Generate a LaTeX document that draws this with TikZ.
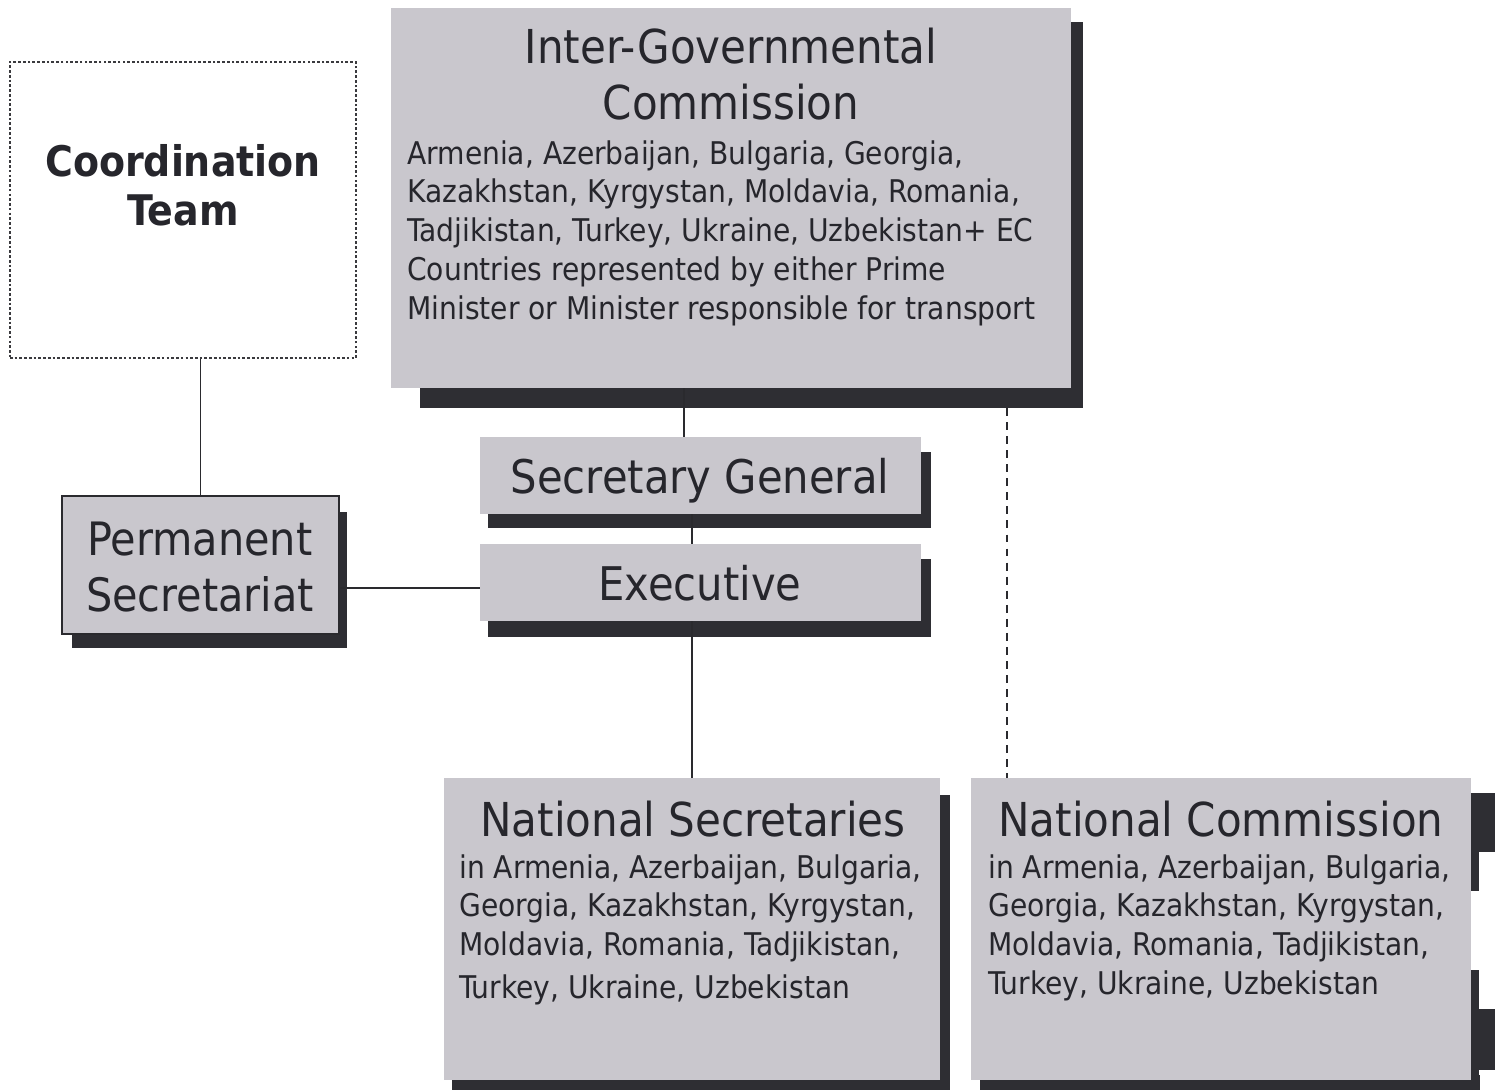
\documentclass[tikz,border=0pt]{standalone}
\usepackage{fontspec}
\setmainfont{DejaVu Sans Condensed}
\usetikzlibrary{fit}

\definecolor{panel}{HTML}{C9C7CD}
\definecolor{shadowc}{HTML}{2E2E33}
\definecolor{ink}{HTML}{26262C}
\definecolor{linec}{HTML}{2A2A2E}
\definecolor{dotc}{HTML}{3A3A3E}

% multi-line text blocks whose baseline is the first line
\newcommand{\LeftLines}[1]{\begin{tabular}[t]{@{}l@{}}#1\end{tabular}}
\newcommand{\CentreLines}[1]{\begin{tabular}[t]{@{}c@{}}#1\end{tabular}}

\begin{document}
\begin{tikzpicture}[x=0.02cm,y=-0.02cm,
  panelbox/.style={fill=panel, draw=none, inner sep=0},
  dropshade/.style={fill=shadowc, draw=none},
  link/.style={draw=linec, line width=0.9pt},
  txt/.style={inner sep=0, text=ink},
  titlefont/.style={font=\fontsize{26.6pt}{32.3pt}\selectfont},
  bodyfont/.style={font=\fontsize{17.8pt}{22.1pt}\selectfont},
  labelfont/.style={font=\fontsize{26.4pt}{32.3pt}\selectfont},
]
% canvas
\path[fill=white] (0,0) rectangle (1502,1090);

% drop shadows
\fill[dropshade] (420,22) rectangle (1083,408);
\fill[dropshade] (488,452) rectangle (931,528);
\fill[dropshade] (488,559) rectangle (931,637);
\fill[dropshade] (72,512) rectangle (347,648);
\fill[dropshade] (452,795) rectangle (950,1090);
\fill[dropshade] (980,1075) rectangle (1480,1090);
\fill[dropshade] (1471,793) rectangle (1479,891);
\fill[dropshade] (1479,793) rectangle (1495,852);
\fill[dropshade] (1471,970) rectangle (1479,1090);
\fill[dropshade] (1479,1009) rectangle (1495,1070);

% boxes
\node[fit={(10,62) (356,358)}, inner sep=0, draw=dotc, line width=1.5pt,
      dash pattern=on 1.5pt off 1.2pt, fill=white] (coord) {};
\node[panelbox, fit={(391,8) (1071,388)}] (igc) {};
\node[panelbox, fit={(480,437) (921,514)}] (secgen) {};
\node[panelbox, fit={(480,544) (921,621)}] (exec) {};
\node[panelbox, fit={(62,496) (339,634)}, draw=linec, line width=0.9pt] (permsec) {};
\node[panelbox, fit={(444,778) (940,1080)}] (natsec) {};
\node[panelbox, fit={(971,778) (1471,1080)}] (natcom) {};

% connectors
\coordinate (igcdrop) at (684,388);
\coordinate (dashtop) at (1007,408);
\draw[link] (permsec.north) -- (permsec.north |- coord.south);
\draw[link] (igcdrop) -- (igcdrop |- secgen.north);
\draw[link] (secgen.south -| natsec.north) -- (exec.north -| natsec.north);
\draw[link] (exec.south -| natsec.north) -- (natsec.north);
\draw[link] (permsec.east |- 0,588) -- (exec.west |- 0,588);
\draw[draw=linec, line width=1pt, dash pattern=on 4.5pt off 3.5pt]
  (dashtop) -- (dashtop |- natcom.north);

% texts
\node[txt, anchor=base, font=\bfseries\fontsize{24pt}{28.3pt}\selectfont]
  (coordtxt) at (183,176) {\CentreLines{Coordination\\Team}};
\node[txt, anchor=base, titlefont] (igctitle) at (731,63)
  {\CentreLines{Inter-Governmental\\Commission}};
\node[txt, anchor=base west, bodyfont] (igcbody) at (407,164)
  {\LeftLines{Armenia, Azerbaijan, Bulgaria, Georgia,\\
   Kazakhstan, Kyrgystan, Moldavia, Romania,\\
   Tadjikistan, Turkey, Ukraine, Uzbekistan+ EC\\
   Countries represented by either Prime\\
   Minister or Minister responsible for transport}};
\node[txt, anchor=base, labelfont] (sgtxt) at (700,493) {Secretary General};
\node[txt, anchor=base, labelfont] (extxt) at (700,600) {Executive};
\node[txt, anchor=base, font=\fontsize{26.2pt}{32.3pt}\selectfont] (pstxt) at (200,555)
  {\CentreLines{Permanent\\Secretariat}};
\node[txt, anchor=base, titlefont] (nstitle) at (693,836) {National Secretaries};
\node[txt, anchor=base west, bodyfont] (nsbody) at (459,878)
  {\LeftLines{in Armenia, Azerbaijan, Bulgaria,\\
   Georgia, Kazakhstan, Kyrgystan,\\
   Moldavia, Romania, Tadjikistan,\\[2.4pt]
   Turkey, Ukraine, Uzbekistan}};
\node[txt, anchor=base, titlefont] (nctitle) at (1221,836) {National Commission};
\node[txt, anchor=base west, bodyfont] (ncbody) at (988,878)
  {\LeftLines{in Armenia, Azerbaijan, Bulgaria,\\
   Georgia, Kazakhstan, Kyrgystan,\\
   Moldavia, Romania, Tadjikistan,\\
   Turkey, Ukraine, Uzbekistan}};
\end{tikzpicture}
\end{document}
